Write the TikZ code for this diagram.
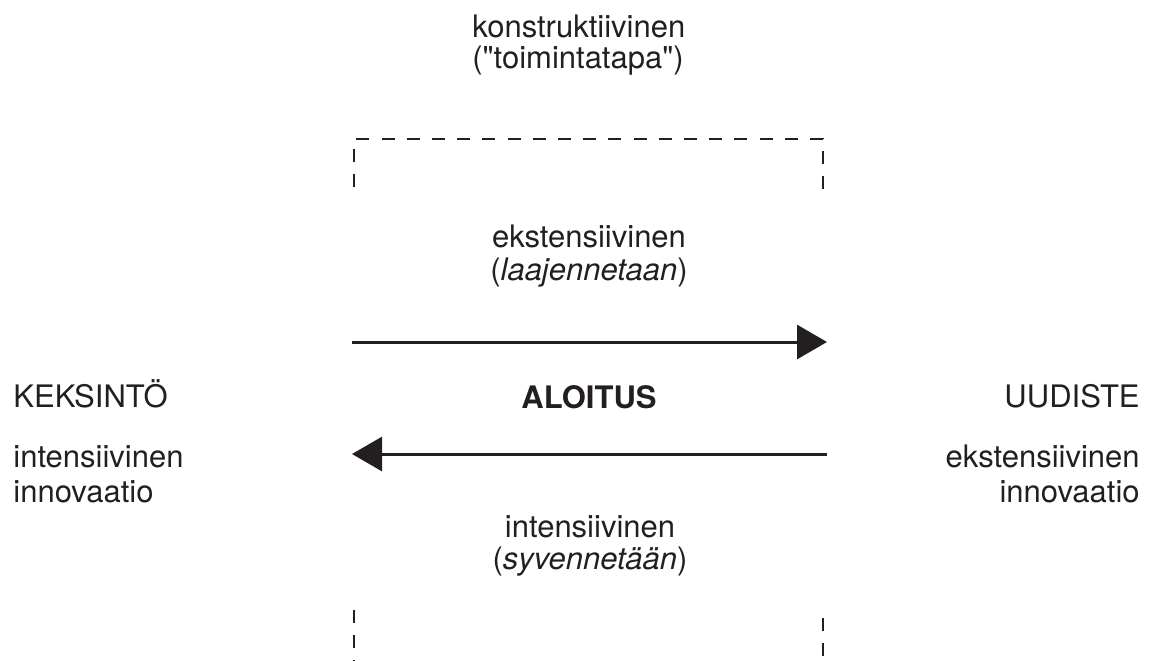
\documentclass[tikz,border=0pt]{standalone}
\usepackage{fontspec}
\setmainfont{TeX Gyre Heros}
\usetikzlibrary{arrows.meta}
\definecolor{ink}{HTML}{231F20}
\begin{document}
\begin{tikzpicture}[x=0.5pt,y=-0.5pt,
  lbl/.style={inner sep=0pt, text=ink, font=\fontsize{15.5pt}{18pt}\selectfont},
  flow/.style={draw=ink, line width=1.5pt, -{Triangle[length=15pt,width=17pt]}},
  frameline/.style={draw=ink, line width=1.4pt, dash pattern=on 6.5pt off 6.1pt}]
\useasboundingbox (0,0) rectangle (1154,660);
\clip (0,0) rectangle (1154,660);

% dashed frames
\draw[frameline] (354,187) -- (354,139) -- (823,139) -- (823,191);
\draw[frameline] (354,610) -- (354,663) -- (823,663) -- (823,610);

% top labels
\node[lbl, anchor=base west] (kon1) at (472,37) {konstruktiivinen};
\node[lbl, anchor=base west] (kon2) at (472,68) {(\textquotedbl toimintatapa\textquotedbl)};

\node[lbl, anchor=base] (eks1) at (589,247) {ekstensiivinen};
\node[lbl, anchor=base] (eks2) at (589,280) {(\textit{laajennetaan})};

\node[lbl, anchor=base, font=\fontsize{15.5pt}{18pt}\selectfont\bfseries] (alo) at (589,408) {ALOITUS};

\node[lbl, anchor=base] (int1) at (590,537) {intensiivinen};
\node[lbl, anchor=base] (int2) at (590,569) {(\textit{syvennetään})};

% left side
\node[lbl, anchor=base west] (kek) at (13,407) {KEKSINTÖ};
\node[lbl, anchor=base west] (kek1) at (13,467) {intensiivinen};
\node[lbl, anchor=base west] (kek2) at (13,502) {innovaatio};

% right side
\node[lbl, anchor=base east] (uud) at (1140,407) {UUDISTE};
\node[lbl, anchor=base east] (uud1) at (1140,467) {ekstensiivinen};
\node[lbl, anchor=base east] (uud2) at (1140,502) {innovaatio};

% arrows
\coordinate (aL) at (352,342);
\coordinate (aR) at (827,342);
\coordinate (bR) at (827,454);
\coordinate (bL) at (352,454);
\draw[flow] (aL) -- (aR);
\draw[flow] (bR) -- (bL);
\end{tikzpicture}
\end{document}
